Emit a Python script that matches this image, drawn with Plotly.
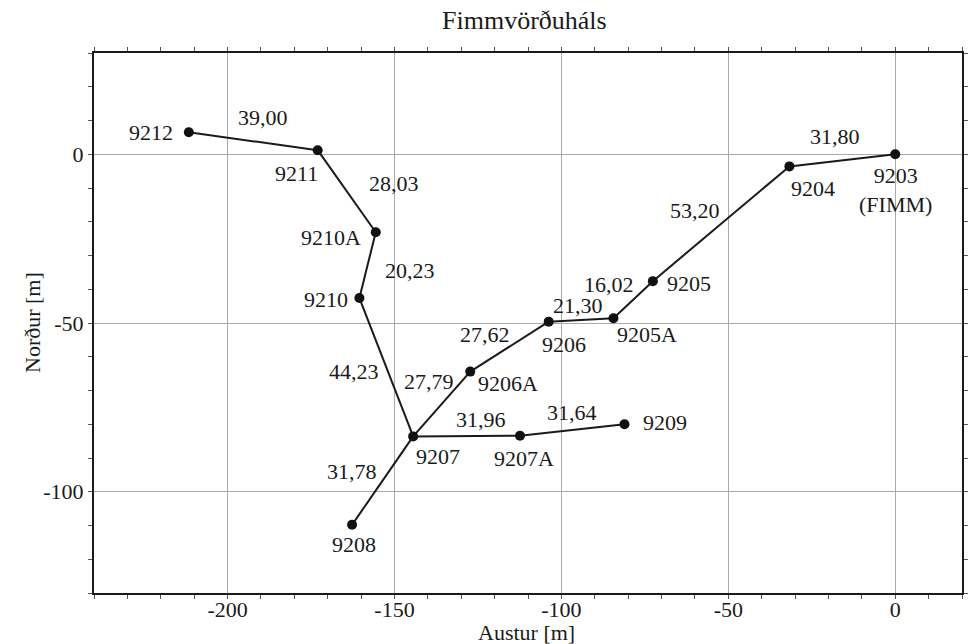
import plotly.graph_objects as go

# ---- data ----
stations = ["9212", "9211", "9210A", "9210", "9207", "9208", "9206A", "9206",
            "9205A", "9205", "9204", "9203<br>(FIMM)", "9207A", "9209"]
east = [-211.6, -173.0, -155.6, -160.5, -144.4, -162.7, -127.3, -103.8,
        -84.4, -72.6, -31.7, 0.0, -112.4, -81.1]
north = [6.5, 1.2, -23.1, -42.6, -83.6, -109.8, -64.4, -49.6,
         -48.6, -37.6, -3.6, 0.0, -83.4, -80.0]

edge_from = ["9212", "9211", "9210A", "9210", "9207", "9206A", "9206", "9205A",
             "9205", "9204", "9207", "9207A", "9207"]
edge_to = ["9211", "9210A", "9210", "9207", "9206A", "9206", "9205A", "9205",
           "9204", "9203<br>(FIMM)", "9207A", "9209", "9208"]
distances = ["39,00", "28,03", "20,23", "44,23", "27,79", "27,62", "21,30", "16,02",
             "53,20", "31,80", "31,96", "31,64", "31,78"]

x_tick_vals = [-200, -150, -100, -50, 0]
x_tick_text = ["-200", "-150", "-100", "-50", "0"]
y_tick_vals = [-100, -50, 0]
y_tick_text = ["-100", "-50", "0"]

title_text = "Fimmvörðuháls"
x_title = "Austur [m]"
y_title = "Norður [m]"

# ---- styles (pixel offsets of labels) ----
FONT = "Liberation Serif, Times New Roman, serif"
FS = 22
TXT = "#1a1a1a"
station_offset = {  # (dx, dy) in px, dy positive = down
    "9212": (-37.5, 0), "9211": (-21, 23), "9210A": (-45, 5.5), "9210": (-33, 1.5),
    "9207": (25, 20), "9208": (1.5, 20), "9206A": (37.5, 12), "9206": (15, 23),
    "9205A": (34, 16.5), "9205": (36, 2), "9204": (24, 22), "9203<br>(FIMM)": (0, 36),
    "9207A": (4.5, 23), "9209": (41, -1.5),
}
dist_offset = [(10, -24), (47, -8), (42, 5), (-32, 4), (-12.5, -23), (-24, -12),
               (-3, -14), (-24, -15), (-26, -13), (-7.5, -24), (14, -17), (0, -17),
               (-31, -9.5)]

idx = {s: i for i, s in enumerate(stations)}

lx, ly = [], []
for a, b in zip(edge_from, edge_to):
    lx += [east[idx[a]], east[idx[b]], None]
    ly += [north[idx[a]], north[idx[b]], None]

fig = go.Figure()
fig.add_trace(go.Scatter(x=lx, y=ly, mode="lines",
                         line=dict(color="#1a1a1a", width=2), hoverinfo="skip",
                         showlegend=False))
fig.add_trace(go.Scatter(x=east, y=north, mode="markers",
                         marker=dict(color="#111111", size=10), text=stations,
                         showlegend=False))

annotations = []
for s, xv, yv in zip(stations, east, north):
    dx, dy = station_offset[s]
    annotations.append(dict(x=xv, y=yv, xref="x", yref="y", text=s, showarrow=False,
                            xshift=dx, yshift=-dy, xanchor="center", yanchor="middle",
                            font=dict(family=FONT, size=FS, color=TXT)))
for (a, b, d), (dx, dy) in zip(zip(edge_from, edge_to, distances), dist_offset):
    mx = (east[idx[a]] + east[idx[b]]) / 2
    my = (north[idx[a]] + north[idx[b]]) / 2
    annotations.append(dict(x=mx, y=my, xref="x", yref="y", text=d, showarrow=False,
                            xshift=dx, yshift=-dy, xanchor="center", yanchor="middle",
                            font=dict(family=FONT, size=FS, color=TXT)))

# axis titles and chart title
annotations.append(dict(x=0.5, y=0, xref="paper", yref="paper", text=x_title,
                        showarrow=False, xanchor="center", yanchor="middle", yshift=-39,
                        xshift=-2, font=dict(family=FONT, size=FS, color=TXT)))
annotations.append(dict(x=0, y=0.5, xref="paper", yref="paper", text=y_title,
                        showarrow=False, xanchor="center", yanchor="middle", xshift=-62,
                        textangle=-90, font=dict(family=FONT, size=FS, color=TXT)))
annotations.append(dict(x=0.5, y=1, xref="paper", yref="paper", text=title_text,
                        showarrow=False, xanchor="center", yanchor="middle", yshift=33,
                        xshift=-4, font=dict(family=FONT, size=26, color=TXT)))

axis_common = dict(
    showline=True, linecolor="#1a1a1a", linewidth=2, mirror="allticks",
    ticks="outside", ticklen=4, tickcolor="#555555", tickwidth=1,
    showgrid=True, gridcolor="#aaaaaa", gridwidth=1, zeroline=False,
    tickmode="array",
    tickfont=dict(family=FONT, size=FS, color=TXT),
    minor=dict(dtick=10, tick0=0, ticks="outside", ticklen=4, tickcolor="#555555",
               tickwidth=1, showgrid=False),
)

fig.update_layout(
    width=972, height=644,
    margin=dict(l=94, r=4, t=53, b=51),
    paper_bgcolor="white", plot_bgcolor="white",
    xaxis=dict(range=[-240, 20], tickvals=x_tick_vals, ticktext=x_tick_text,
               ticklabelstandoff=-8, **axis_common),
    yaxis=dict(range=[-130, 30], tickvals=y_tick_vals, ticktext=y_tick_text,
               **axis_common),
    annotations=annotations,
    showlegend=False,
)

fig.write_html("out.html", config={"displayModeBar": False},
               post_script="document.body.style.margin='0';document.body.style.padding='0';")
